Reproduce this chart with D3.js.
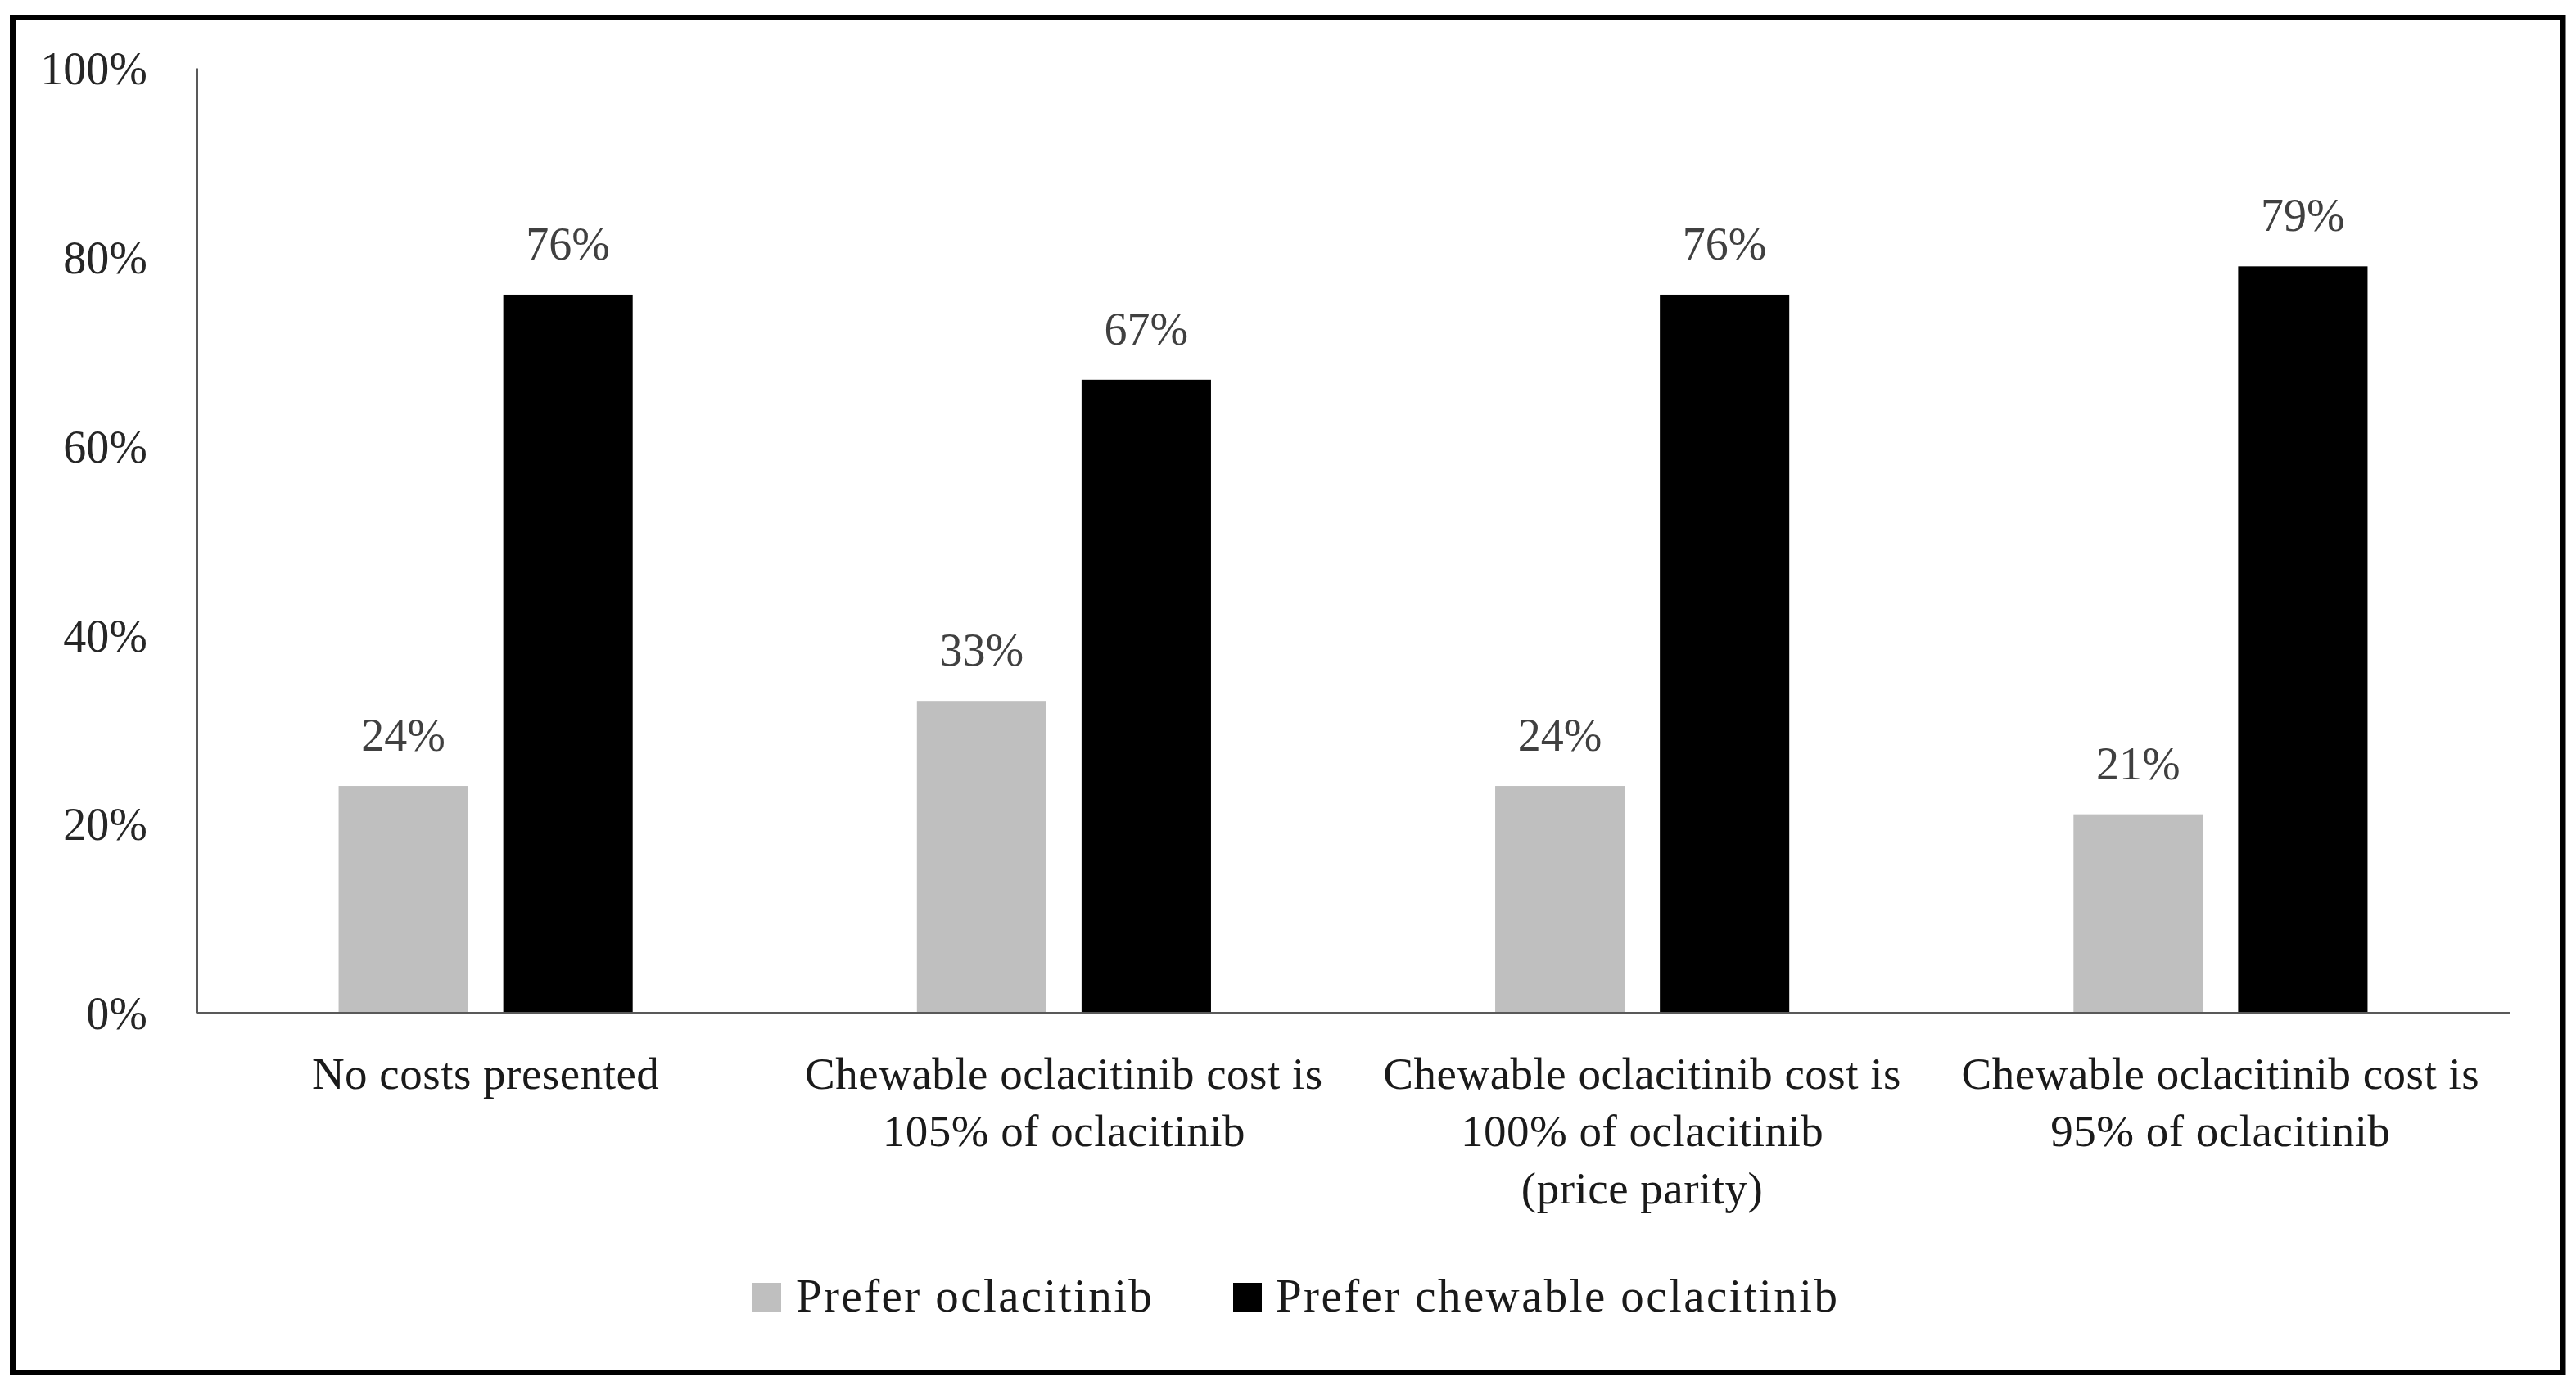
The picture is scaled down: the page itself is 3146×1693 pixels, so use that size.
<!DOCTYPE html>
<html>
<head>
<meta charset="utf-8">
<script src="https://cdn.jsdelivr.net/npm/d3@7"></script>
<style>
  html, body { margin: 0; padding: 0; background: #fff; }
  svg { display: block; }
</style>
</head>
<body>
<svg id="chart" width="3146" height="1693"></svg>
<script>
const categories = [
  ["No costs presented"],
  ["Chewable oclacitinib cost is", "105% of oclacitinib"],
  ["Chewable oclacitinib cost is", "100% of oclacitinib", "(price parity)"],
  ["Chewable oclacitinib cost is", "95% of oclacitinib"]
];
const seriesNames = ["Prefer oclacitinib", "Prefer chewable oclacitinib"];
const preferOclacitinib = [24, 33, 24, 21];
const preferChewable = [76, 67, 76, 79];
const yTicks = [0, 20, 40, 60, 80, 100];
const seriesColors = ["#bfbfbf", "#000000"];

(function () {
const svg = d3.select("#chart");
const font = "'Liberation Serif', 'DejaVu Serif', serif";
const plotL = 240, plotR = 3065, plotT = 83, plotB = 1237;

// border
svg.append("rect")
  .attr("x", 15.5).attr("y", 21.5)
  .attr("width", 3114.5).attr("height", 1655)
  .attr("fill", "none").attr("stroke", "#000").attr("stroke-width", 7);

const idx = d3.range(categories.length);
const x0 = d3.scaleBand().domain(idx).range([plotL, plotR]).paddingInner(0).paddingOuter(0);
const x1 = d3.scaleBand().domain([0, 1]).range([0, x0.bandwidth()])
  .paddingInner(0.214).paddingOuter(0.863);
const y = d3.scaleLinear().domain([0, 100]).range([plotB, plotT]);

const series = [preferOclacitinib, preferChewable];

// bars
series.forEach((vals, s) => {
  svg.append("g").selectAll("rect").data(vals).join("rect")
    .attr("x", (d, i) => x0(i) + x1(s))
    .attr("y", d => y(d))
    .attr("width", x1.bandwidth())
    .attr("height", d => y(0) - y(d))
    .attr("fill", seriesColors[s]);
  svg.append("g").selectAll("text").data(vals).join("text")
    .attr("x", (d, i) => x0(i) + x1(s) + x1.bandwidth() / 2)
    .attr("y", d => y(d) - 43)
    .attr("text-anchor", "middle")
    .attr("font-family", font).attr("font-size", 56)
    .attr("fill", "#404040")
    .text(d => d + "%");
});

// y axis
const yAxis = d3.axisLeft(y).tickValues(yTicks).tickSize(0).tickPadding(60)
  .tickFormat(d => d + "%");
const gy = svg.append("g").attr("transform", `translate(${plotL},0)`).call(yAxis);
gy.select(".domain").attr("stroke", "#595959").attr("stroke-width", 3);
gy.selectAll("text").attr("font-family", font).attr("font-size", 56)
  .attr("fill", "#262626").attr("dy", "0.35em");

// x axis
const xAxis = d3.axisBottom(x0).tickSize(0).tickFormat("");
const gx = svg.append("g").attr("transform", `translate(0,${plotB})`).call(xAxis);
gx.select(".domain").attr("stroke", "#595959").attr("stroke-width", 3);

// category labels
const catG = svg.append("g");
categories.forEach((lines, i) => {
  const cx = x0(i) + x0.bandwidth() / 2;
  const t = catG.append("text")
    .attr("x", cx).attr("y", 1330)
    .attr("text-anchor", "middle")
    .attr("font-family", font).attr("font-size", 55)
    .attr("letter-spacing", "0.5px")
    .attr("fill", "#1a1a1a");
  lines.forEach((ln, j) => {
    t.append("tspan").attr("x", cx).attr("y", 1330 + j * 70).text(ln);
  });
});

// legend
const legendPos = [{x: 919, tx: 972}, {x: 1506, tx: 1558}];
seriesNames.forEach((name, s) => {
  svg.append("rect").attr("x", legendPos[s].x).attr("y", 1567)
    .attr("width", 35).attr("height", 36).attr("fill", seriesColors[s]);
  svg.append("text").attr("x", legendPos[s].tx).attr("y", 1602)
    .attr("font-family", font).attr("font-size", 57)
    .attr("letter-spacing", "2.4px")
    .attr("fill", "#1a1a1a").text(name);
});
})();
</script>
</body>
</html>
